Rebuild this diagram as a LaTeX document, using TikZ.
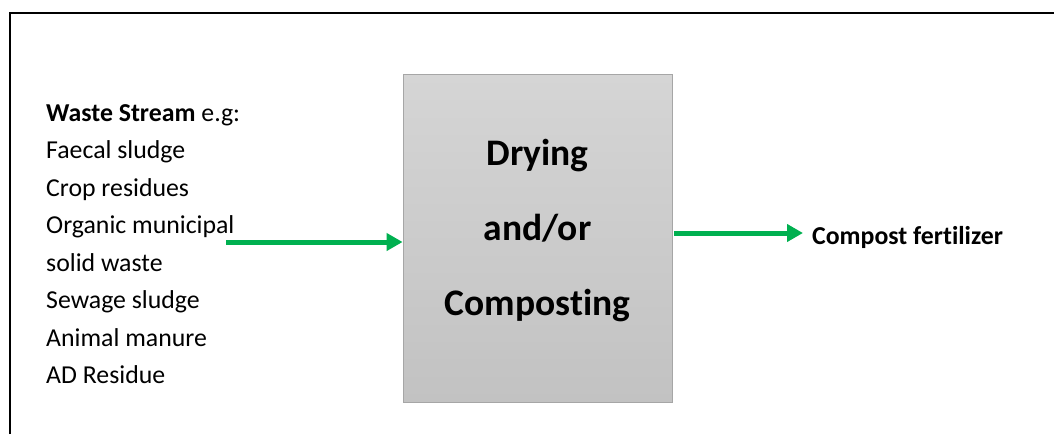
\documentclass[tikz,border=0pt]{standalone}
\usepackage{fontspec}
\setmainfont[Ligatures=NoCommon]{Carlito}
\usetikzlibrary{arrows.meta}
\definecolor{flowgreen}{RGB}{0,176,80}
\definecolor{boxtop}{RGB}{213,213,213}
\definecolor{boxbottom}{RGB}{194,194,194}
\definecolor{boxedge}{RGB}{166,166,166}
\tikzset{
  listtext/.style={anchor=base west, inner sep=0pt, font=\fontsize{25.8}{30}\selectfont},
  boxtext/.style={anchor=base, inner sep=0pt, font=\fontsize{37.5}{45}\selectfont\bfseries},
  flow/.style={draw=flowgreen, line width=5pt, -{Triangle[length=16pt,width=17pt]}},
  procbox/.style={draw=boxedge, line width=0.8pt, top color=boxtop, bottom color=boxbottom,
    minimum width=269pt, minimum height=328pt, inner sep=0pt},
}
\begin{document}
\begin{tikzpicture}[x=1pt,y=-1pt]
\useasboundingbox (0,0) rectangle (1054,434);
% frame
\draw[line width=2pt] (10,434) -- (10,12.5) -- (1054,12.5);

% process box
\node[procbox] (proc) at (537.5,238) {};
\node[boxtext] (t1) at (537.5,165) {Drying};
\node[boxtext] (t2) at (537.5,240) {and/or};
\node[boxtext] (t3) at (537.5,315) {Composting};

% input list
\node[listtext] (w0) at (46,121) {\textbf{Waste Stream} e.g:};
\node[listtext] (w1) at (46,158.5) {Faecal sludge};
\node[listtext] (w2) at (46,196) {Crop residues};
\node[listtext] (w3) at (46,233.5) {Organic municipal};
\node[listtext] (w4) at (46,271) {solid waste};
\node[listtext] (w5) at (46,308.5) {Sewage sludge};
\node[listtext] (w6) at (46,346) {Animal manure};
\node[listtext] (w7) at (46,383.5) {AD Residue};

% output
\node[listtext, font=\fontsize{25.8}{30}\selectfont\bfseries] (prod) at (812,244) {Compost fertilizer};

% connectors
\coordinate (srcL) at (226,242);
\coordinate (tipR) at (803,233);
\draw[flow] (srcL) -- (srcL -| proc.west);
\draw[flow] ([xshift=2pt]proc.east |- tipR) -- (tipR);
\end{tikzpicture}
\end{document}
